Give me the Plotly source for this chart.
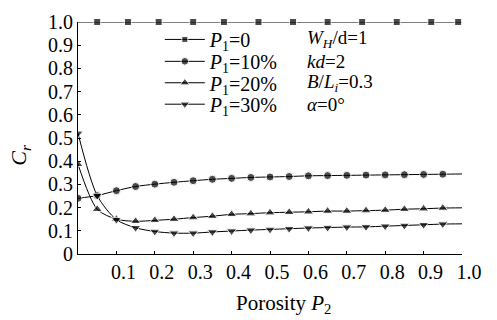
import plotly.graph_objects as go

# ---- data ----
x_p0 = [0, 0.05, 0.13, 0.21, 0.30, 0.38, 0.47, 0.56, 0.65, 0.74, 0.83, 0.92, 0.99, 1.0]
y_p0 = [1.0] * len(x_p0)

x_por = [0, 0.05, 0.10, 0.15, 0.20, 0.25, 0.30, 0.35, 0.40, 0.45, 0.50,
         0.55, 0.60, 0.65, 0.70, 0.75, 0.80, 0.85, 0.90, 0.95, 1.0]
y_p10 = [0.240, 0.252, 0.273, 0.291, 0.301, 0.309, 0.316, 0.322, 0.326, 0.330, 0.332,
         0.334, 0.337, 0.338, 0.339, 0.340, 0.341, 0.342, 0.343, 0.344, 0.345]
y_p20 = [0.387, 0.193, 0.150, 0.141, 0.145, 0.150, 0.157, 0.163, 0.171, 0.174, 0.178,
         0.180, 0.182, 0.185, 0.185, 0.187, 0.189, 0.193, 0.195, 0.198, 0.199]
y_p30 = [0.520, 0.252, 0.148, 0.113, 0.097, 0.090, 0.090, 0.095, 0.099, 0.103, 0.106,
         0.109, 0.112, 0.114, 0.116, 0.117, 0.120, 0.123, 0.126, 0.129, 0.130]

series_names = ["<i>P</i><sub>1</sub>=0", "<i>P</i><sub>1</sub>=10%",
                "<i>P</i><sub>1</sub>=20%", "<i>P</i><sub>1</sub>=30%"]
x_tick_vals = [0.1, 0.2, 0.3, 0.4, 0.5, 0.6, 0.7, 0.8, 0.9, 1.0]
x_tick_text = ["0.1", "0.2", "0.3", "0.4", "0.5", "0.6", "0.7", "0.8", "0.9", "1.0"]
y_tick_vals = [0, 0.1, 0.2, 0.3, 0.4, 0.5, 0.6, 0.7, 0.8, 0.9, 1.0]
y_tick_text = ["0", "0.1", "0.2", "0.3", "0.4", "0.5", "0.6", "0.7", "0.8", "0.9", "1.0"]
param_texts = ["<i>W</i><sub><i>H</i></sub>/d=1", "<i>kd</i>=2",
               "<i>B</i>/<i>L</i><sub><i>i</i></sub>=0.3", "<i>α</i>=0°"]

FONT = "Times New Roman, Liberation Serif, serif"
# pixel geometry of the plot area (used only for layout placement)
PX_L, PX_R, PX_T, PX_B = 78.3, 461.7, 10.7, 254.3
ROW_PX = [29, 52, 74.5, 97]


def paper_y(py):
    return (PX_B - py) / (PX_B - PX_T)


def paper_x(px):
    return (px - PX_L) / (PX_R - PX_L)


fig = go.Figure()

sizes_p0 = [0] + [7] * (len(x_p0) - 2) + [0]
fig.add_trace(go.Scatter(x=x_p0, y=y_p0, name=series_names[0], mode="lines+markers",
                         line=dict(color="black", width=1),
                         marker=dict(symbol="square", size=sizes_p0, color="black"),
                         cliponaxis=False, legend="legend"))
legend_ids = ["legend2", "legend3", "legend4"]
for ys, nm, sym, sz, lg in [(y_p10, series_names[1], "circle", 8, legend_ids[0]),
                            (y_p20, series_names[2], "triangle-up", 9, legend_ids[1]),
                            (y_p30, series_names[3], "triangle-down", 9, legend_ids[2])]:
    fig.add_trace(go.Scatter(x=x_por, y=ys, name=nm, mode="lines+markers",
                             line=dict(color="black", width=1, shape="spline", smoothing=0.8),
                             marker=dict(symbol=sym, size=[sz] * (len(x_por) - 1) + [0], color="black"),
                             cliponaxis=True, legend=lg))

leg_common = dict(x=paper_x(160), xanchor="left", yanchor="middle",
                  bgcolor="rgba(0,0,0,0)", font=dict(family=FONT, size=20),
                  itemwidth=40, borderwidth=0)

fig.update_layout(
    width=497, height=320,
    margin=dict(l=78, r=35, t=11, b=66),
    paper_bgcolor="white", plot_bgcolor="white",
    font=dict(family=FONT, size=20, color="black"),
    showlegend=True,
    legend=dict(y=paper_y(ROW_PX[0]), **leg_common),
    legend2=dict(y=paper_y(ROW_PX[1]), **leg_common),
    legend3=dict(y=paper_y(ROW_PX[2]), **leg_common),
    legend4=dict(y=paper_y(ROW_PX[3]), **leg_common),
    xaxis=dict(range=[0, 1.0], showline=True, linecolor="black", linewidth=1,
               ticks="inside", ticklen=3, tickcolor="black",
               tickvals=x_tick_vals, ticktext=x_tick_text, showgrid=False, zeroline=False,
               ticklabelshift=7, tickfont=dict(family=FONT, size=20)),
    yaxis=dict(range=[0, 1.0], showline=True, linecolor="black", linewidth=1,
               ticks="inside", ticklen=3, tickcolor="black",
               tickvals=y_tick_vals, ticktext=y_tick_text, showgrid=False, zeroline=False,
               tickfont=dict(family=FONT, size=20)),
)

fig.add_annotation(text="Porosity <i>P</i><sub>2</sub>", xref="paper", yref="paper",
                   x=paper_x(283), y=-0.15, xanchor="center", yanchor="top", showarrow=False,
                   font=dict(family=FONT, size=21))
fig.add_annotation(text="<i>C</i><sub><i>r</i></sub>", xref="paper", yref="paper",
                   x=-0.15, y=0.43, xanchor="center", yanchor="middle", textangle=-90,
                   showarrow=False, font=dict(family=FONT, size=22))
for i, t in enumerate(param_texts):
    fig.add_annotation(text=t, xref="paper", yref="paper",
                       x=paper_x(306), y=paper_y(ROW_PX[i]),
                       xanchor="left", yanchor="middle", showarrow=False, borderpad=0,
                       font=dict(family=FONT, size=19))

fig.write_html("out.html")
